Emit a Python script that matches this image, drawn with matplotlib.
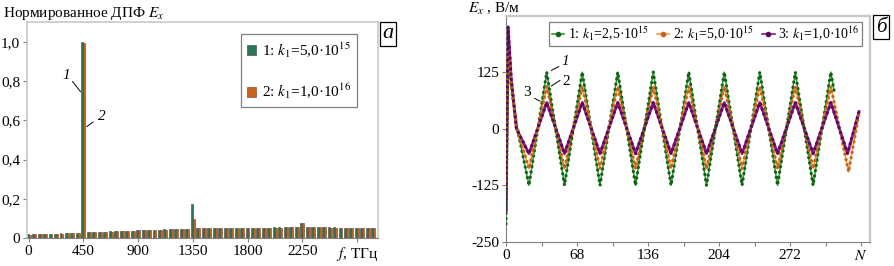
import matplotlib
matplotlib.use("Agg")
import matplotlib.pyplot as plt
from matplotlib.lines import Line2D
import numpy as np

plt.rcParams['font.family'] = ['Liberation Serif', 'DejaVu Serif']
plt.rcParams['mathtext.fontset'] = 'stix'
plt.rcParams['font.size'] = 11

# ---- panel a: normalised DFT, 64 bins of 45 THz ----
bins = list(range(64))
xlabels = ['0', '450', '900', '1350', '1800', '2250', '$f$, ТГц']
dft_1 = [0.018, 0.019, 0.020, 0.021, 0.022, 0.022, 0.023, 0.024, 0.025, 0.026,
         1.000, 0.030, 0.031, 0.032, 0.033, 0.034, 0.035, 0.036, 0.037, 0.038,
         0.040, 0.041, 0.041, 0.042, 0.043, 0.044, 0.045, 0.045, 0.046, 0.047,
         0.175, 0.050, 0.050, 0.051, 0.051, 0.051, 0.052, 0.052, 0.052, 0.052,
         0.053, 0.053, 0.053, 0.053, 0.053, 0.054, 0.054, 0.054, 0.054, 0.054,
         0.078, 0.055, 0.055, 0.055, 0.054, 0.054, 0.054, 0.053, 0.053, 0.053,
         0.052, 0.052, 0.052, 0.051]
dft_2 = [0.017, 0.018, 0.019, 0.020, 0.021, 0.022, 0.022, 0.023, 0.024, 0.025,
         0.995, 0.029, 0.030, 0.031, 0.032, 0.033, 0.034, 0.035, 0.036, 0.037,
         0.039, 0.040, 0.041, 0.042, 0.042, 0.043, 0.044, 0.045, 0.046, 0.046,
         0.097, 0.049, 0.050, 0.050, 0.051, 0.051, 0.051, 0.052, 0.052, 0.052,
         0.052, 0.053, 0.053, 0.053, 0.053, 0.053, 0.053, 0.054, 0.054, 0.054,
         0.074, 0.054, 0.054, 0.054, 0.054, 0.053, 0.053, 0.053, 0.052, 0.052,
         0.052, 0.051, 0.051, 0.050]

# ---- panel b: E_x vs sample N (peak/trough vertices) ----
n_1 = [0, 2, 5, 10, 22, 39, 56, 73, 90, 107, 124, 141, 158, 175, 192, 209,
       226, 243, 260, 277, 294, 311, 314]
e_1 = [-210, 165, 95, 10, -125, 125, -125, 125, -125, 125, -125, 125, -125,
       125, -125, 125, -125, 125, -125, 125, -125, 125, 85]
n_2 = [0, 2, 5, 10, 22, 39, 56, 73, 90, 107, 124, 141, 158, 175, 192, 209,
       226, 243, 260, 277, 294, 311, 328, 338]
e_2 = [-130, 175, 100, 5, -88, 93, -88, 93, -88, 93, -88, 93, -88, 93, -88,
       93, -88, 93, -88, 93, -88, 93, -95, 35]
n_3 = [0, 2, 5, 10, 22, 39, 56, 73, 90, 107, 124, 141, 158, 175, 192, 209,
       226, 243, 260, 277, 294, 311, 327, 338]
e_3 = [-180, 225, 110, 0, -55, 58, -55, 58, -55, 58, -55, 58, -55, 58, -55,
       58, -55, 58, -55, 58, -55, 58, -55, 38]

W, H = 894, 266
fig = plt.figure(figsize=(W / 100, H / 100), dpi=100)

def fx(p):
    return p / W

def fy(p):
    return 1 - p / H

# ===== left panel =====
axa = fig.add_axes([fx(27), fy(238), fx(351), fy(22) - fy(238)])
x = np.array(bins)
bw = 0.36
axa.bar(x - bw / 2, dft_1, bw, color='#2d7458', edgecolor='#2a4a3a', lw=0.4,
        label='1: $k_1$=5,0·10$^{15}$')
axa.bar(x + bw / 2, dft_2, bw, color='#c8601e', edgecolor='#6a3a20', lw=0.4,
        label='2: $k_1$=1,0·10$^{16}$')
axa.set_xlim(-0.3, 63.85)
axa.set_ylim(0, 1.102)
axa.set_xticks(range(0, 61, 10))
axa.set_xticklabels(xlabels)
axa.set_yticks([0, 0.2, 0.4, 0.6, 0.8, 1.0])
axa.set_yticklabels(['0', '0,2', '0,4', '0,6', '0,8', '1,0'])
for s in ['top', 'right', 'left']:
    axa.spines[s].set_color('#c8c8c8')
    axa.spines[s].set_linewidth(1.2)
axa.spines['bottom'].set_color('#808080')
axa.tick_params(axis='both', length=3, width=0.8, color='#808080', pad=2)
leg = axa.legend(loc='upper left', bbox_to_anchor=(0.61, 0.944), borderaxespad=0,
                 frameon=True, fancybox=False, edgecolor='#606060',
                 handlelength=0.6, handleheight=0.6, handletextpad=0.35,
                 labelspacing=1.45, borderpad=0.4, fontsize=11)
leg.get_frame().set_linewidth(0.9)
fig.text(fx(3), fy(14), 'Нормированное ДПФ $E_x$', fontsize=11, va='center')
axa.annotate('', xy=(9.8, 0.735), xytext=(7.7, 0.81),
             arrowprops=dict(arrowstyle='-', lw=0.7, color='k'))
axa.text(6.9, 0.83, '1', fontsize=11, style='italic', ha='center', va='center')
axa.annotate('', xy=(10.2, 0.56), xytext=(12.2, 0.60),
             arrowprops=dict(arrowstyle='-', lw=0.7, color='k'))
axa.text(13.3, 0.62, '2', fontsize=11, style='italic', ha='center', va='center')
fig.text(fx(388), fy(34), 'а', fontsize=16, style='italic', ha='center', va='center',
         bbox=dict(boxstyle='square,pad=0.12', fc='white', ec='k', lw=0.9))

# ===== right panel =====
axb = fig.add_axes([fx(506), fy(242), fx(364), fy(15.5) - fy(242)])
series = [(n_1, e_1, '#2ca02c', '#17601a', 1.1, '1: $k_1$=2,5·10$^{15}$'),
          (n_2, e_2, '#f5a040', '#c86418', 1.1, '2: $k_1$=5,0·10$^{15}$'),
          (n_3, e_3, '#8a1a8a', '#5a0a5a', 2.0, '3: $k_1$=1,0·10$^{16}$')]
handles = []
for n, e, c, dc, lw, lab in series:
    axb.plot(n, e, color=c, lw=lw, zorder=2)
    axb.plot(n, e, color=dc, lw=2.4, ls=(0, (0.01, 1.6)), dash_capstyle='round',
             zorder=3)
    handles.append(Line2D([], [], color=c, lw=1.2, marker='o', ms=3,
                          mfc=dc, mec=dc, label=lab))
axb.set_xlim(0, 348.5)
axb.set_ylim(-250, 250)
axb.set_xticks([0, 68, 136, 204, 272, 340])
axb.set_xticklabels(['0', '68', '136', '204', '272', '$N$'])
axb.set_xticks([34, 102, 170, 238, 306], minor=True)
axb.set_yticks([-250, -125, 0, 125])
axb.set_yticklabels(['-250', '-125', '0', '125'])
for s in ['top', 'right']:
    axb.spines[s].set_color('#c8c8c8')
    axb.spines[s].set_linewidth(1.6)
axb.spines['left'].set_color('#808080')
axb.spines['bottom'].set_color('#808080')
axb.tick_params(axis='both', which='both', length=3, width=0.8, color='#808080', pad=2)
leg2 = axb.legend(handles=handles, loc='upper left', bbox_to_anchor=(0.118, 0.971),
                  borderaxespad=0, ncol=3, frameon=True, fancybox=False,
                  edgecolor='#606060', handlelength=0.9, handletextpad=0.25,
                  columnspacing=0.6, borderpad=0.2, fontsize=10)
leg2.get_frame().set_linewidth(0.9)
fig.text(fx(468), fy(9), '$E_x$ , В/м', fontsize=11, va='center')
axb.annotate('', xy=(41, 126), xytext=(53, 140),
             arrowprops=dict(arrowstyle='-', lw=0.7, color='k'))
axb.text(57, 148, '1', fontsize=11, style='italic', ha='center', va='center')
axb.annotate('', xy=(41, 91), xytext=(54, 110),
             arrowprops=dict(arrowstyle='-', lw=0.7, color='k'))
axb.text(58, 104, '2', fontsize=11, ha='center', va='center')
axb.annotate('', xy=(35, 58), xytext=(25, 70),
             arrowprops=dict(arrowstyle='-', lw=0.7, color='k'))
axb.text(20, 79, '3', fontsize=11, ha='center', va='center')
fig.text(fx(881), fy(27), 'б', fontsize=15, style='italic', ha='center', va='center',
         bbox=dict(boxstyle='square,pad=0.12', fc='white', ec='k', lw=0.9))

fig.savefig('out.png', dpi=100)
